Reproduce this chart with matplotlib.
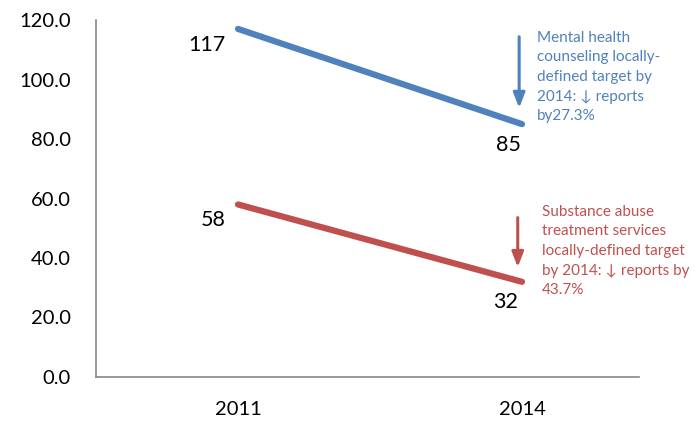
import matplotlib.pyplot as plt

# data
years = ['2011', '2014']
mental = [117, 85]
substance = [58, 32]
yticks = [0, 20, 40, 60, 80, 100, 120]

blue = '#4F81BD'
red = '#C0504D'

plt.rcParams['font.family'] = ['Lato', 'DejaVu Sans']

fig = plt.figure(figsize=(6.99, 4.24), dpi=100)
ax = fig.add_axes([96 / 699, 1 - 377 / 424, 543 / 699, 357 / 424])

x = range(len(years))
ax.plot(x, mental, color=blue, lw=4.5, solid_capstyle='round')
ax.plot(x, substance, color=red, lw=4.5, solid_capstyle='round')

ax.set_xlim(-0.5, 1.412)
ax.set_ylim(0, 120)
ax.set_yticks(yticks)
ax.set_yticklabels(['%.1f' % v for v in yticks])
ax.set_xticks(list(x))
ax.set_xticklabels(years)
ax.tick_params(axis='both', length=0, labelsize=14.5, colors='black')
ax.tick_params(axis='y', pad=18)
ax.tick_params(axis='x', pad=17)

for s in ['top', 'right']:
    ax.spines[s].set_visible(False)
for s in ['left', 'bottom']:
    ax.spines[s].set_color('#868686')
    ax.spines[s].set_linewidth(1.2)

# value labels
ax.annotate(str(mental[0]), (0, mental[0]), xytext=(-9, -11.5), textcoords='offset points',
            ha='right', va='center', fontsize=15.5)
ax.annotate(str(mental[1]), (1, mental[1]), xytext=(-10, -15), textcoords='offset points',
            ha='center', va='center', fontsize=15.5)
ax.annotate(str(substance[0]), (0, substance[0]), xytext=(-9, -11.5), textcoords='offset points',
            ha='right', va='center', fontsize=15.5)
ax.annotate(str(substance[1]), (1, substance[1]), xytext=(-11.5, -14.5), textcoords='offset points',
            ha='center', va='center', fontsize=15.5)

# target arrows and notes
ax.annotate('', xy=(0.99, 89.5), xytext=(0.99, 115.3),
            arrowprops=dict(arrowstyle='-|>,head_width=0.35,head_length=0.9', color=blue, lw=2.2))
ax.annotate('', xy=(0.985, 36), xytext=(0.985, 54.5),
            arrowprops=dict(arrowstyle='-|>,head_width=0.35,head_length=0.9', color=red, lw=2.2))

ax.text(537 / 699, 1 - 31 / 424,
        'Mental health\ncounseling locally-\ndefined target by\n2014: \u2193 reports\nby27.3%',
        transform=fig.transFigure, color=blue, fontsize=11, va='top', ha='left',
        linespacing=1.5)
ax.text(542 / 699, 1 - 205 / 424,
        'Substance abuse\ntreatment services\nlocally-defined target\nby 2014: \u2193 reports by\n43.7%',
        transform=fig.transFigure, color=red, fontsize=11, va='top', ha='left',
        linespacing=1.5)

fig.savefig('out.png', dpi=100)
